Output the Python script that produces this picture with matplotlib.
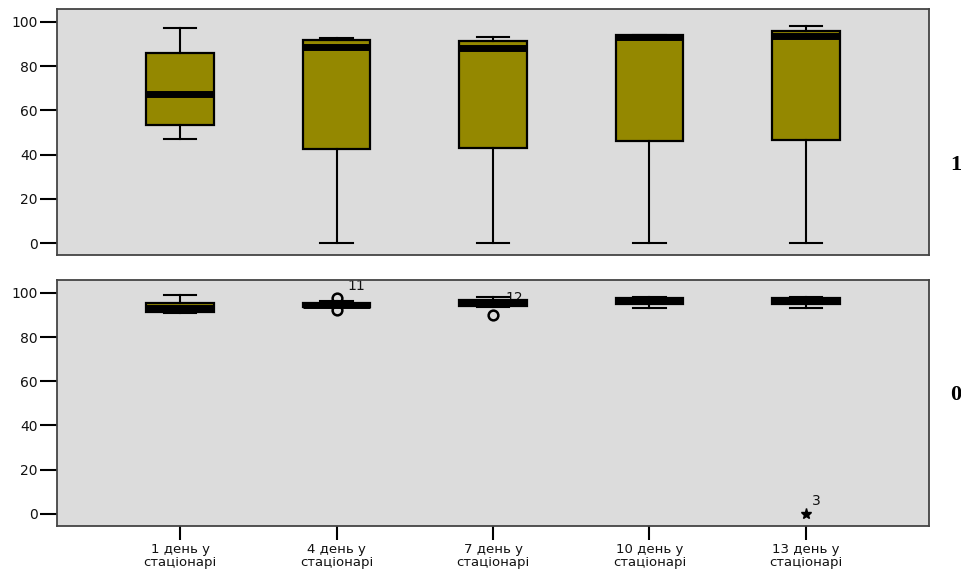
import matplotlib
matplotlib.use("Agg")
import matplotlib.pyplot as plt

# ---- data ----
categories = ["1 день у\nстаціонарі", "4 день у\nстаціонарі", "7 день у\nстаціонарі",
              "10 день у\nстаціонарі", "13 день у\nстаціонарі"]
yticks = [0, 20, 40, 60, 80, 100]

# panel "1" (top)
top_whislo = [47.0, 0.0, 0.0, 0.0, 0.0]
top_q1 = [53.5, 42.5, 43.0, 46.0, 46.5]
top_med = [67.5, 88.5, 88.0, 93.0, 93.5]
top_q3 = [86.0, 92.0, 91.5, 94.2, 96.0]
top_whishi = [97.0, 92.5, 93.0, 94.2, 98.3]

# panel "0" (bottom)
bot_whislo = [91.0, 93.5, 93.8, 93.2, 93.2]
bot_q1 = [91.5, 93.5, 94.0, 95.0, 95.0]
bot_med = [93.0, 94.5, 95.5, 96.3, 96.2]
bot_q3 = [95.5, 95.5, 96.8, 97.6, 97.6]
bot_whishi = [98.8, 96.5, 98.3, 98.3, 98.3]

# outliers (circles) and extremes (stars) in bottom panel
out_x = [2, 2, 3]
out_y = [97.5, 92.3, 90.0]
ext_x = [5]
ext_y = [0.0]
case_labels = ["11", "12", "3"]
case_x = [2, 3, 5]
case_y = [97.5, 97.0, 0.0]
case_dx = [8, 9, 4]
case_dy = [9, 1, 9]

panel_labels = ["1", "0"]

# ---- style ----
FILL = "#948800"
BG = "#DCDCDC"
SPINE = "#444444"

W, H = 962, 571
fig = plt.figure(figsize=(W / 100, H / 100), dpi=100)
plt.rcParams["font.family"] = ["DejaVu Sans"]

left = 57 / W
width = (929 - 57) / W
ax_top = fig.add_axes([left, 1 - 255 / H, width, (255 - 9) / H])
ax_bot = fig.add_axes([left, 1 - 525.7 / H, width, (525.7 - 280) / H])


def draw(ax, wl, q1, med, q3, wh):
    stats = []
    for i in range(len(categories)):
        stats.append(dict(whislo=wl[i], q1=q1[i], med=med[i], q3=q3[i],
                          whishi=wh[i], fliers=[]))
    ax.bxp(stats, positions=range(1, len(categories) + 1), widths=0.43,
           capwidths=0.21, showfliers=False, patch_artist=True,
           boxprops=dict(facecolor=FILL, edgecolor="black", linewidth=1.6),
           medianprops=dict(color="black", linewidth=5, solid_capstyle="butt"),
           whiskerprops=dict(color="black", linewidth=1.5),
           capprops=dict(color="black", linewidth=1.5))
    ax.set_facecolor(BG)
    ax.set_xlim(0.214, 5.786)
    ax.set_ylim(-5.4, 105.8)
    ax.set_yticks(yticks)
    ax.tick_params(axis="y", length=12, width=1.5, labelsize=10,
                   color="black", pad=2, labelcolor="#111111")
    for s in ax.spines.values():
        s.set_color(SPINE)
        s.set_linewidth(1.3)


draw(ax_top, top_whislo, top_q1, top_med, top_q3, top_whishi)
ax_top.set_xticks([])

draw(ax_bot, bot_whislo, bot_q1, bot_med, bot_q3, bot_whishi)
ax_bot.set_xticks(range(1, len(categories) + 1))
ax_bot.set_xticklabels(categories, fontsize=9.5, linespacing=1.0)
ax_bot.tick_params(axis="x", length=10, width=1.5, color="black", pad=2.5,
                   labelcolor="#111111")

# case labels (drawn under boxes)
for t, x, y, dx, dy in zip(case_labels, case_x, case_y, case_dx, case_dy):
    ax_bot.annotate(t, (x, y), xytext=(dx, dy), textcoords="offset points",
                    fontsize=10, ha="left", va="center", zorder=1.5,
                    color="#111111")

ax_bot.plot(out_x, out_y, linestyle="none", marker="o", markersize=7,
            markerfacecolor="none", markeredgecolor="black",
            markeredgewidth=1.8, zorder=4)
ax_bot.plot(ext_x, ext_y, linestyle="none", marker="*", markersize=8,
            color="black", zorder=4)

# panel labels at right edge
fig.text(961 / W, 1 - 165 / H, panel_labels[0], fontsize=16,
         family="Liberation Serif", weight="bold", ha="right", va="center")
fig.text(961 / W, 1 - 395 / H, panel_labels[1], fontsize=16,
         family="Liberation Serif", weight="bold", ha="right", va="center")

fig.savefig("out.png", dpi=100, facecolor="white")
